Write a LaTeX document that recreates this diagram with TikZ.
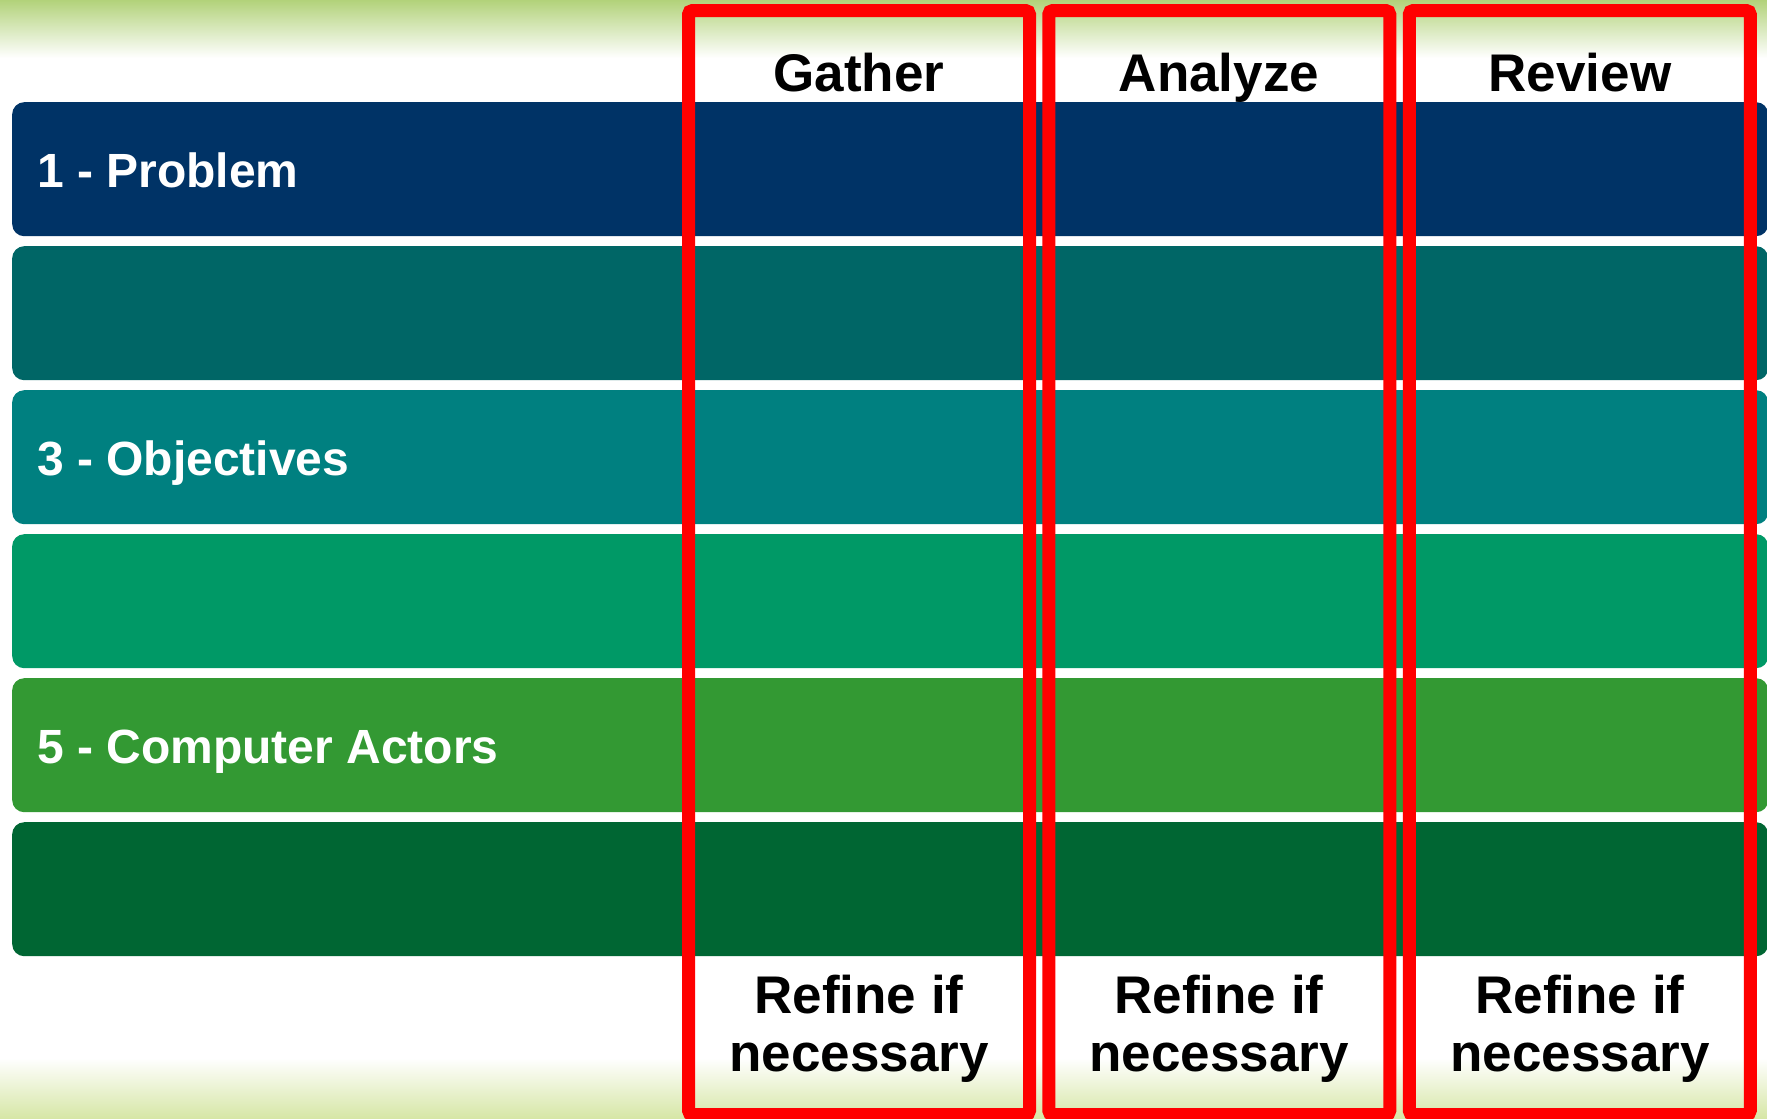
\documentclass[tikz,border=0pt]{standalone}
\usepackage{fontspec}
\setmainfont{Liberation Sans}
\definecolor{cA}{HTML}{003366}
\definecolor{cB}{HTML}{006666}
\definecolor{cC}{HTML}{008080}
\definecolor{cD}{HTML}{009966}
\definecolor{cE}{HTML}{339933}
\definecolor{cF}{HTML}{006633}
\definecolor{topgreen}{RGB}{178,210,122}
\definecolor{botgreen}{RGB}{214,230,165}
\definecolor{redline}{HTML}{FF0000}
\begin{document}
\begin{tikzpicture}[x=1pt,y=-1pt,
  bar/.style={draw=none, rounded corners=12pt, minimum width=1756pt, minimum height=134pt, anchor=north west, inner sep=0pt},
  lbl/.style={text=white, font=\fontsize{48}{56}\selectfont\bfseries, anchor=base west, inner sep=0pt},
  head/.style={text=black, font=\fontsize{53}{58}\selectfont\bfseries, anchor=base, inner sep=0pt},
  refine/.style={text=black, font=\fontsize{53}{58}\selectfont\bfseries, align=center, anchor=north, inner sep=0pt},
  redbox/.style={draw=redline, line width=13pt, rounded corners=4pt, minimum width=341pt, minimum height=1104pt, inner sep=0pt}]
\useasboundingbox (0,0) rectangle (1767,1119);
\fill[white] (0,0) rectangle (1767,1119);
\shade[top color=topgreen, bottom color=white] (0,0) rectangle (1767,58);
\shade[top color=white, bottom color=botgreen] (0,1058) rectangle (1767,1119);
% bars
\node[bar, fill=cA] (b1) at (12,102) {};
\node[bar, fill=cB] (b2) at (12,246) {};
\node[bar, fill=cC] (b3) at (12,390) {};
\node[bar, fill=cD] (b4) at (12,534) {};
\node[bar, fill=cE] (b5) at (12,678) {};
\node[bar, fill=cF] (b6) at (12,822) {};
% labels
\node[lbl] (l1) at (37,187) {1 - Problem};
\node[lbl] (l3) at (37,475) {3 - Objectives};
\node[lbl] (l5) at (37,763) {5 - Computer Actors};
% headers
\node[head] (hg) at (859,91) {Gather};
\node[head] (ha) at (1219,91) {Analyze};
\node[head] (hr) at (1580,91) {Review};
% refine
\node[refine] (rg) at (859,975) {Refine if\\necessary};
\node[refine] (ra) at (1219,975) {Refine if\\necessary};
\node[refine] (rr) at (1580,975) {Refine if\\necessary};
% red boxes
\node[redbox] (gbox) at (859,562.5) {};
\node[redbox] (abox) at (1219.25,562.5) {};
\node[redbox] (rbox) at (1579.75,562.5) {};
\end{tikzpicture}
\end{document}
